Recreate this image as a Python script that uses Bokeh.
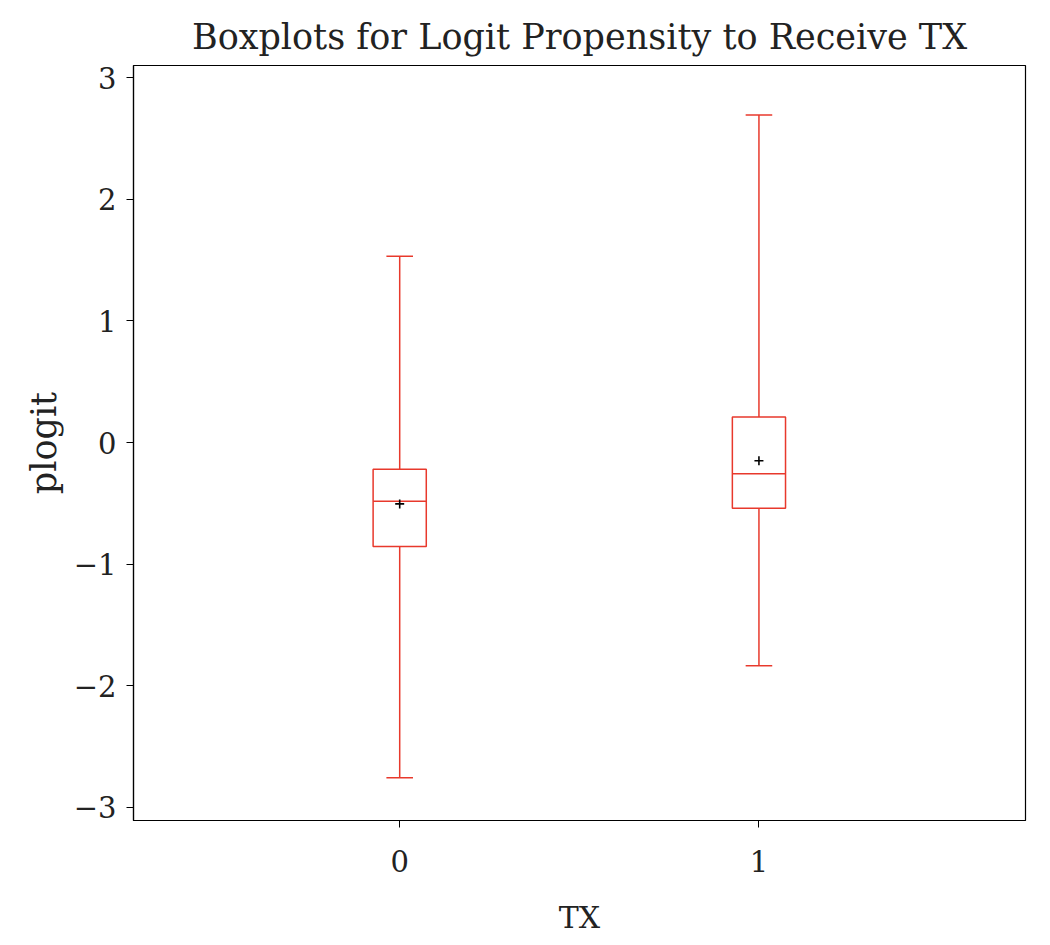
from bokeh.plotting import figure
from bokeh.models import FixedTicker, Range1d
from bokeh.embed import file_html
from bokeh.resources import INLINE

# ---- data ----
groups = [0, 1]
group_labels = ["0", "1"]
q1 = [-0.856, -0.541]
median = [-0.483, -0.256]
q3 = [-0.220, 0.210]
mean = [-0.505, -0.150]
whisker_low = [-2.757, -1.836]
whisker_high = [1.532, 2.694]
y_ticks = [-3, -2, -1, 0, 1, 2, 3]
y_tick_labels = ["\u22123", "\u22122", "\u22121", "0", "1", "2", "3"]

FONT = "DejaVu Serif"
RED = "#e8392c"
box_w = 0.148
cap_w = 0.074

p = figure(width=1042, height=937, output_backend="svg", toolbar_location=None,
           x_range=Range1d(-0.741, 1.742), y_range=Range1d(-3.109, 3.101),
           title="Boxplots for Logit Propensity to Receive TX",
           min_border_left=133, min_border_right=17, min_border_top=65, min_border_bottom=116)

p.title.text_font = FONT
p.title.text_font_size = "35px"
p.title.text_font_style = "normal"
p.title.align = "center"
p.title.text_color = "#222222"
p.title.standoff = 17

p.xgrid.visible = False
p.ygrid.visible = False
p.outline_line_color = "black"
p.outline_line_width = 1.2

for ax in (p.xaxis, p.yaxis):
    ax.axis_line_color = "black"
    ax.axis_line_width = 1.2
    ax.major_tick_out = 7
    ax.major_tick_in = 0
    ax.minor_tick_line_color = None
    ax.major_label_text_font = FONT
    ax.major_label_text_font_size = "29px"
    ax.major_label_text_color = "#222222"
    ax.axis_label_text_font = FONT
    ax.axis_label_text_font_size = "30px"
    ax.axis_label_text_font_style = "normal"
    ax.axis_label_text_color = "#222222"

p.xaxis.ticker = FixedTicker(ticks=groups)
p.xaxis.major_label_overrides = {g: l for g, l in zip(groups, group_labels)}
p.xaxis.major_label_standoff = 22
p.xaxis.axis_label = "TX"
p.xaxis.axis_label_standoff = 25

p.yaxis.ticker = FixedTicker(ticks=y_ticks)
p.yaxis.major_label_overrides = {t: l for t, l in zip(y_ticks, y_tick_labels)}
p.yaxis.major_label_standoff = 10
p.yaxis.axis_label = "plogit"
p.yaxis.axis_label_text_font_size = "35px"
p.yaxis.axis_label_standoff = 7

# whiskers
p.segment(x0=groups, x1=groups, y0=q3, y1=whisker_high, line_color=RED, line_width=1.5)
p.segment(x0=groups, x1=groups, y0=whisker_low, y1=q1, line_color=RED, line_width=1.5)
# caps
p.segment(x0=[g - cap_w / 2 for g in groups], x1=[g + cap_w / 2 for g in groups],
          y0=whisker_high, y1=whisker_high, line_color=RED, line_width=1.5)
p.segment(x0=[g - cap_w / 2 for g in groups], x1=[g + cap_w / 2 for g in groups],
          y0=whisker_low, y1=whisker_low, line_color=RED, line_width=1.5)
# boxes
p.quad(left=[g - box_w / 2 for g in groups], right=[g + box_w / 2 for g in groups],
       bottom=q1, top=q3, fill_color=None, line_color=RED, line_width=1.5)
# medians
p.segment(x0=[g - box_w / 2 for g in groups], x1=[g + box_w / 2 for g in groups],
          y0=median, y1=median, line_color=RED, line_width=1.5)
# means
p.scatter(x=groups, y=mean, marker="cross", size=9, line_color="black", line_width=1.6)

open("out.html", "w").write(file_html(p, INLINE))
